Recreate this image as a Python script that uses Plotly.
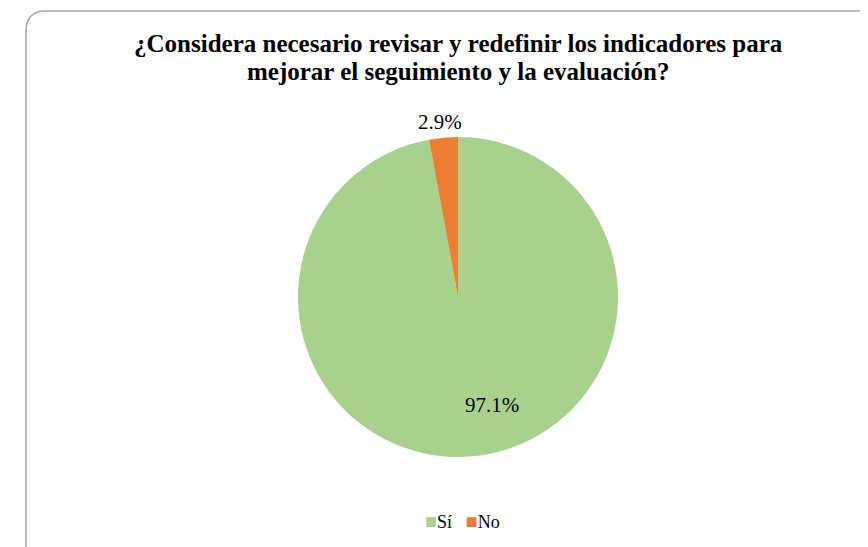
import plotly.graph_objects as go

categories = ["Sí", "No"]
values = [97.1, 2.9]
colors = ["#A9D18E", "#ED7D31"]
title_lines = ["¿Considera necesario revisar y redefinir los indicadores para",
               "mejorar el seguimiento y la evaluación?"]

W, H = 868, 547
OFF = 8  # page body margin
def px(x): return (x - OFF) / W
def py(y): return 1 - (y - OFF) / H

FONT = "Liberation Serif"

fig = go.Figure(go.Pie(
    labels=categories, values=values, sort=False, direction="clockwise", rotation=0,
    marker=dict(colors=colors, line=dict(width=0)),
    textinfo="none",
    domain=dict(x=[px(298), px(618)], y=[py(457), py(137)]),
    hoverinfo="label+percent",
    showlegend=False,
))

# data labels
label_pos = [(492, 405), (440, 122)]
for v, (lx, ly) in zip(values, label_pos):
    fig.add_annotation(text=f"{v:.1f}%", x=px(lx), y=py(ly), xref="paper", yref="paper",
                       xanchor="center", yanchor="middle", showarrow=False,
                       font=dict(family=FONT, size=21, color="#000000"))

# title
for i, (line, ty) in enumerate(zip(title_lines, [44, 72])):
    fig.add_annotation(text=f"<b>{line}</b>", x=px(458), y=py(ty), xref="paper", yref="paper",
                       xanchor="center", yanchor="middle", showarrow=False,
                       font=dict(family=FONT, size=25, color="#000000"))

# legend
leg = "&nbsp;&nbsp;&nbsp;".join(f"<span style='color:{c};font-size:20px'>■</span>{n}" for n, c in zip(categories, colors))
fig.add_annotation(text=leg, x=px(462), y=py(521), xref="paper", yref="paper",
                   xanchor="center", yanchor="middle", showarrow=False,
                   font=dict(family=FONT, size=18, color="#000000"))

# rounded border
x0, y0, r = 26, 11, 20
path = (f"M {px(x0)},{py(H+20)} L {px(x0)},{py(y0+r)} "
        f"Q {px(x0)},{py(y0)} {px(x0+r)},{py(y0)} L {px(W+20)},{py(y0)}")
fig.add_shape(type="path", path=path, xref="paper", yref="paper",
              line=dict(color="#A6A6A6", width=1.5))

fig.update_layout(
    width=W, height=H, margin=dict(l=0, r=0, t=0, b=0),
    paper_bgcolor="white", plot_bgcolor="white",
    showlegend=False,
)
fig.write_html("out.html")
